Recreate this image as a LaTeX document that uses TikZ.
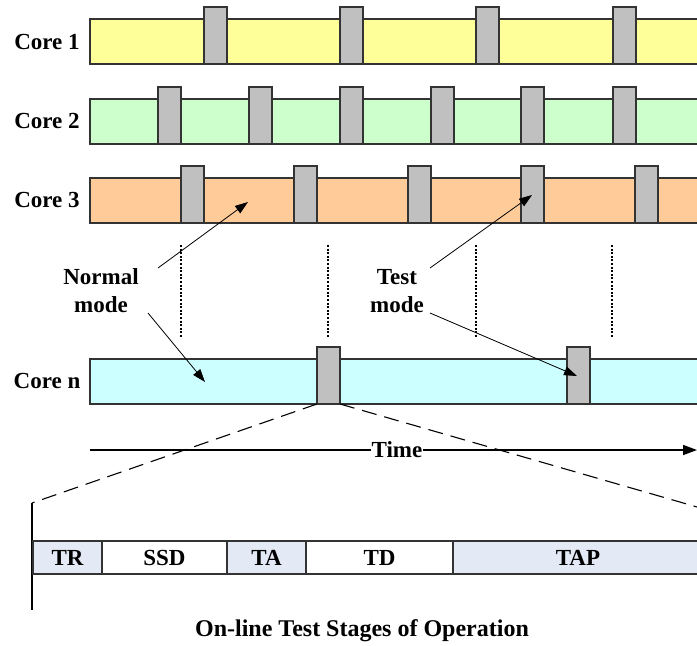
\documentclass[tikz,border=0pt]{standalone}
\usepackage{fontspec}
\setmainfont{Liberation Serif}
\usetikzlibrary{arrows.meta}
\definecolor{coreA}{HTML}{FFFF99}
\definecolor{coreB}{HTML}{CCFFCC}
\definecolor{coreC}{HTML}{FFCC99}
\definecolor{coreN}{HTML}{CCFFFF}
\definecolor{blockgray}{HTML}{C0C0C0}
\definecolor{stageblue}{HTML}{E3EAF5}
\definecolor{edge}{HTML}{333333}
\tikzset{
  lbl/.style={font=\fontsize{23}{28}\selectfont\bfseries, inner sep=0pt, align=center},
  corebar/.style={draw=edge, line width=1.1pt},
  tblock/.style={fill=blockgray, draw=edge, line width=1.1pt},
  ptr/.style={-{Triangle[length=13pt,width=9pt]}, line width=0.8pt},
  guide/.style={line width=1.4pt, dash pattern=on 2pt off 1.6pt},
  zoomline/.style={line width=1.1pt, dash pattern=on 15pt off 8pt},
  stagebox/.style={draw=edge, line width=1.1pt, minimum height=33pt, anchor=west,
                   outer sep=0pt, inner sep=0pt, font=\fontsize{23}{28}\selectfont\bfseries},
}
\begin{document}
\begin{tikzpicture}[x=1pt,y=-1pt]
\useasboundingbox (0,0) rectangle (697,646);
\clip (0,0) rectangle (697,646);

% core timelines with their test slots
\draw[corebar, fill=coreA] (90,19) rectangle (712,64);
\foreach \x in {204,340,476,613} \draw[tblock] (\x,7) rectangle ++(23,57);
\draw[corebar, fill=coreB] (90,99) rectangle (712,144);
\foreach \x in {158,249,340,431,521,613} \draw[tblock] (\x,87) rectangle ++(23,57);
\draw[corebar, fill=coreC] (90,178) rectangle (712,223);
\foreach \x in {181,294,408,521,635} \draw[tblock] (\x,166) rectangle ++(23,57);
\draw[corebar, fill=coreN] (90,359) rectangle (712,404);
\foreach \x in {317,567} \draw[tblock] (\x,347) rectangle ++(23,57);

\node[lbl] (c1) at (47,42) {Core 1};
\node[lbl] (c2) at (47,121) {Core 2};
\node[lbl] (c3) at (47,200) {Core 3};
\node[lbl] (cn) at (47,381) {Core n};

% dotted continuation marks
\foreach \x in {181,328,476,612} \draw[guide] (\x,245) -- (\x,337);

% mode labels and pointers
\node[lbl] (normal) at (101,291) {Normal\\mode};
\node[lbl] (test) at (397,291) {Test\\mode};
\coordinate (nUp) at (158,268);
\coordinate (nDn) at (148,313);
\coordinate (tUp) at (430,268);
\coordinate (tDn) at (430,313);
\coordinate (nUpT) at (248,202);
\coordinate (nDnT) at (205,382);
\coordinate (tUpT) at (532,195);
\coordinate (tDnT) at (577,376);
\draw[ptr] (nUp) -- (nUpT);
\draw[ptr] (nDn) -- (nDnT);
\draw[ptr] (tUp) -- (tUpT);
\draw[ptr] (tDn) -- (tDnT);

% zoom lines from the test slot
\coordinate (zl) at (317,404);
\coordinate (zr) at (340,404);
\coordinate (zlEnd) at (32,503);
\coordinate (zrEnd) at (720,513.6);
\draw[zoomline] (zl) -- (zlEnd);
\draw[zoomline] (zr) -- (zrEnd);

% time axis
\coordinate (t0) at (90,450);
\coordinate (t1) at (697,450);
\draw[line width=1.5pt, -{Triangle[length=14pt,width=10pt]}] (t0) -- (t1);
\node[lbl, fill=white, inner xsep=1pt] (time) at (397,450) {Time};

% stage axis
\coordinate (s0) at (32,503);
\coordinate (s1) at (32,610);
\draw[line width=1.5pt] (s0) -- (s1);

\node[stagebox, fill=stageblue, minimum width=69pt] (tr) at (33,557.5) {TR};
\node[stagebox, fill=white, minimum width=125pt] (ssd) at (tr.east) {SSD};
\node[stagebox, fill=stageblue, minimum width=79pt] (ta) at (ssd.east) {TA};
\node[stagebox, fill=white, minimum width=147pt] (td) at (ta.east) {TD};
\node[stagebox, fill=stageblue, minimum width=250pt] (tap) at (td.east) {TAP};

\node[lbl, font=\fontsize{24}{28}\selectfont\bfseries] (caption) at (362,631) {On-line Test Stages of Operation};
\end{tikzpicture}
\end{document}
